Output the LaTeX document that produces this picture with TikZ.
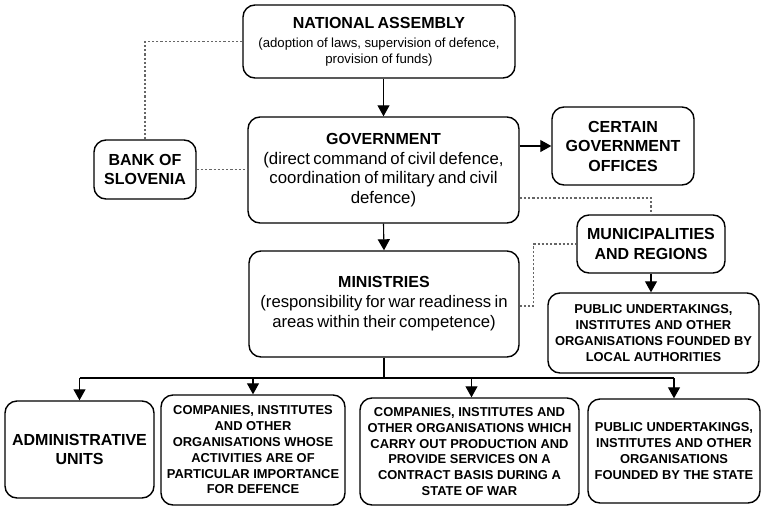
\documentclass[tikz,border=0pt]{standalone}
\usepackage{fontspec}
\setmainfont{Liberation Sans}
\usetikzlibrary{arrows.meta,calc}
\begin{document}
\begin{tikzpicture}[x=1pt,y=-1pt,
  box/.style={draw=black,line width=1.4pt,rounded corners=12pt,align=center,inner sep=0pt,fill=white},
  ttl/.style={font=\bfseries\fontsize{16}{19.5}\selectfont},
  small/.style={font=\bfseries\fontsize{12.9}{15.8}\selectfont},
  conn/.style={line width=1.1pt,-{Triangle[width=12pt,length=11pt]}},
  plain/.style={line width=1.1pt},
  dot/.style={black!60,line width=1.3pt,dash pattern=on 2.2pt off 2pt}]
\useasboundingbox (0,0) rectangle (761,507);
\fill[white] (0,0) rectangle (761,507);
% nodes
\node[box,text width=268pt,minimum width=272pt,minimum height=73pt] (na) at (379,41.5)
  {{\bfseries\fontsize{16}{17}\selectfont NATIONAL ASSEMBLY\par}\vspace{3pt}
   {\fontsize{13.2}{16}\selectfont (adoption of laws, supervision of defence,\\ provision of funds)\par}};
\node[box,text width=268pt,minimum width=271pt,minimum height=106pt] (gov) at (383.5,170)
  {{\bfseries\fontsize{16}{20}\selectfont GOVERNMENT\par}
   {\fontsize{16.8}{19.5}\selectfont (direct command of civil defence,\\ coordination of military and civil\\ defence)\par}};
\node[box,ttl,minimum width=142pt,minimum height=78pt] (cgo) at (623,146)
  {CERTAIN\\ GOVERNMENT\\ OFFICES};
\node[box,ttl,minimum width=102pt,minimum height=59pt] (bank) at (145,169.5)
  {BANK OF\\ SLOVENIA};
\node[box,ttl,minimum width=148pt,minimum height=58pt] (muni) at (651,244)
  {MUNICIPALITIES\\ AND REGIONS};
\node[box,small,minimum width=211pt,minimum height=80pt] (publ) at (653.5,333)
  {PUBLIC UNDERTAKINGS,\\ INSTITUTES AND OTHER\\ ORGANISATIONS FOUNDED BY\\ LOCAL AUTHORITIES};
\node[box,text width=268pt,minimum width=270pt,minimum height=106pt] (min) at (384,304)
  {{\bfseries\fontsize{16}{20}\selectfont MINISTRIES\par}
   {\fontsize{16.7}{20}\selectfont (responsibility for war readiness in\\ areas within their competence)\par}};
\node[box,ttl,minimum width=149pt,minimum height=97pt] (adm) at (79.5,449.5)
  {ADMINISTRATIVE\\ UNITS};
\node[box,small,minimum width=184pt,minimum height=110pt] (c1) at (253,450)
  {COMPANIES, INSTITUTES\\ AND OTHER\\ ORGANISATIONS WHOSE\\ ACTIVITIES ARE OF\\ PARTICULAR IMPORTANCE\\ FOR DEFENCE};
\node[box,small,minimum width=219pt,minimum height=107pt] (c2) at (469.5,451.5)
  {COMPANIES, INSTITUTES AND\\ OTHER ORGANISATIONS WHICH\\ CARRY OUT PRODUCTION AND\\ PROVIDE SERVICES ON A\\ CONTRACT BASIS DURING A\\ STATE OF WAR};
\node[box,small,minimum width=172pt,minimum height=104pt] (pst) at (674,451)
  {PUBLIC UNDERTAKINGS,\\ INSTITUTES AND OTHER\\ ORGANISATIONS\\ FOUNDED BY THE STATE};
% dotted links
\draw[dot] (na.west) -| (bank.north);
\draw[dot] (bank.east) -- (bank.east -| gov.west);
\draw[dot] ([yshift=-28pt]gov.east) -| (muni.north);
\draw[dot] ([yshift=-2pt]min.east) -- ++(14,0) |- (muni.west);
% arrows
\draw[conn] (gov.north |- na.south) -- (gov.north);
\draw[conn] (gov.south) -- (min.north);
\draw[conn] (gov.east |- cgo.west) -- (cgo.west);
\draw[conn] (muni.south) -- (muni.south |- publ.north);
\coordinate (bus) at (384,378);
\draw[plain] (min.south) -- (bus);
\draw[plain] (adm.north |- bus) -- (pst.north |- bus);
\draw[conn] (adm.north |- bus) -- (adm.north);
\draw[conn] (c1.north |- bus) -- (c1.north);
\draw[conn] ([xshift=2pt]c2.north |- bus) -- ([xshift=2pt]c2.north);
\draw[conn] (pst.north |- bus) -- (pst.north);
\end{tikzpicture}
\end{document}
